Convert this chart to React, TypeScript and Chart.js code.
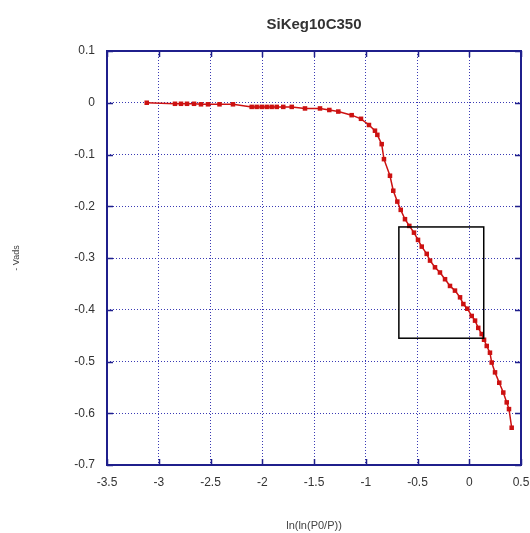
import React, { useEffect, useRef } from "react";
import { Chart, registerables } from "chart.js";

Chart.register(...registerables);

const TITLE = "SiKeg10C350";
const X_TITLE = "ln(ln(P0/P))";
const Y_TITLE = "- Vads";

const X_TICKS = [-3.5, -3, -2.5, -2, -1.5, -1, -0.5, 0, 0.5];
const Y_TICKS = [0.1, 0, -0.1, -0.2, -0.3, -0.4, -0.5, -0.6, -0.7];

const X_VALUES = [
  -3.116, -2.843, -2.785, -2.727, -2.659, -2.592, -2.524, -2.413, -2.283,
  -2.102, -2.054, -2.005, -1.957, -1.909, -1.86, -1.797, -1.715, -1.587,
  -1.442, -1.352, -1.265, -1.136, -1.046, -0.969, -0.911, -0.888, -0.846,
  -0.824, -0.766, -0.734, -0.695, -0.662, -0.621, -0.579, -0.534, -0.495,
  -0.459, -0.411, -0.379, -0.331, -0.283, -0.234, -0.186, -0.138, -0.089,
  -0.057, -0.019, 0.024, 0.056, 0.087, 0.12, 0.143, 0.169, 0.2, 0.217,
  0.249, 0.29, 0.329, 0.362, 0.384, 0.41,
];
const Y_VALUES = [
  0.0, -0.002, -0.002, -0.002, -0.002, -0.003, -0.003, -0.003, -0.003,
  -0.008, -0.008, -0.008, -0.008, -0.008, -0.008, -0.008, -0.008, -0.011,
  -0.011, -0.014, -0.017, -0.024, -0.031, -0.043, -0.054, -0.062, -0.08,
  -0.109, -0.141, -0.17, -0.191, -0.207, -0.225, -0.238, -0.251, -0.265,
  -0.278, -0.292, -0.305, -0.318, -0.328, -0.341, -0.354, -0.363, -0.376,
  -0.389, -0.398, -0.412, -0.421, -0.435, -0.447, -0.458, -0.47, -0.483,
  -0.502, -0.521, -0.541, -0.56, -0.579, -0.592, -0.628,
];

// highlight rectangle (data coordinates)
const BOX_X = [-0.68, 0.14];
const BOX_Y = [-0.24, -0.455];

const FONT = "'Liberation Sans', Arial, sans-serif";
const FRAME = "#1f1f8c";
const GRID = "#3a3ab4";

const framePlugin = {
  id: "frame",
  afterDraw(chart: any) {
    const { ctx, chartArea: a, scales } = chart;
    const xs = scales.x;
    const ys = scales.y;
    ctx.save();
    // highlight box
    ctx.strokeStyle = "#000";
    ctx.lineWidth = 1.5;
    const bx1 = xs.getPixelForValue(BOX_X[0]);
    const bx2 = xs.getPixelForValue(BOX_X[1]);
    const by1 = ys.getPixelForValue(BOX_Y[0]);
    const by2 = ys.getPixelForValue(BOX_Y[1]);
    ctx.strokeRect(bx1, by1, bx2 - bx1, by2 - by1);
    // frame
    ctx.strokeStyle = FRAME;
    ctx.lineWidth = 2;
    ctx.strokeRect(a.left, a.top, a.right - a.left, a.bottom - a.top);
    // inner tick marks
    ctx.lineWidth = 1.5;
    const len = 6;
    X_TICKS.forEach((v) => {
      const p = Math.round(xs.getPixelForValue(v)) + 0.5;
      ctx.beginPath();
      ctx.moveTo(p, a.bottom);
      ctx.lineTo(p, a.bottom - len);
      ctx.moveTo(p, a.top);
      ctx.lineTo(p, a.top + len);
      ctx.stroke();
    });
    Y_TICKS.forEach((v) => {
      const p = Math.round(ys.getPixelForValue(v)) + 0.5;
      ctx.beginPath();
      ctx.moveTo(a.left, p);
      ctx.lineTo(a.left + len, p);
      ctx.moveTo(a.right, p);
      ctx.lineTo(a.right - len, p);
      ctx.stroke();
    });
    ctx.restore();
  },
};

const fmt = (v: number) => String(Math.round(v * 10) / 10);

export default function App() {
  const ref = useRef<HTMLCanvasElement>(null);
  useEffect(() => {
    if (!ref.current) return;
    const chart = new Chart(ref.current, {
      type: "scatter",
      data: {
        datasets: [
          {
            data: X_VALUES.map((x, i) => ({ x, y: Y_VALUES[i] })),
            showLine: true,
            borderColor: "#cc1111",
            backgroundColor: "#cc1111",
            borderWidth: 1.5,
            pointStyle: "rect",
            pointRadius: 3.2,
            pointBorderWidth: 0,
          },
        ],
      },
      options: {
        responsive: false,
        animation: false,
        layout: { padding: { left: 0, right: 0, top: 0, bottom: 0 } },
        plugins: {
          legend: { display: false },
          tooltip: { enabled: false },
          title: {
            display: true,
            text: TITLE,
            fullSize: false,
            color: "#333",
            font: { family: FONT, size: 15, weight: "bold" },
            padding: { top: 16, bottom: 17 },
          },
        },
        scales: {
          x: {
            type: "linear",
            min: -3.5,
            max: 0.5,
            afterBuildTicks: (s: any) => {
              s.ticks = X_TICKS.map((value) => ({ value }));
            },
            afterFit: (s: any) => {
              s.height = 68;
              s.paddingLeft = 0;
              s.paddingRight = 9;
            },
            ticks: {
              callback: (v: any) => fmt(Number(v)),
              font: { family: FONT, size: 12 },
              color: "#333",
              padding: 10,
              maxRotation: 0,
            },
            grid: { color: GRID, lineWidth: 1, drawTicks: false },
            border: { display: false, dash: [1, 2] },
            title: {
              display: true,
              text: X_TITLE,
              color: "#444",
              font: { family: FONT, size: 11 },
              padding: { top: 0, bottom: 0 },
            },
          },
          y: {
            type: "linear",
            min: -0.7,
            max: 0.1,
            afterBuildTicks: (s: any) => {
              s.ticks = Y_TICKS.map((value) => ({ value }));
            },
            afterFit: (s: any) => {
              s.width = 107;
              s.paddingTop = 0;
              s.paddingBottom = 0;
            },
            ticks: {
              callback: (v: any) => fmt(Number(v)),
              font: { family: FONT, size: 12 },
              color: "#333",
              padding: 12,
            },
            grid: { color: GRID, lineWidth: 1, drawTicks: false },
            border: { display: false, dash: [1, 2] },
            title: {
              display: true,
              text: Y_TITLE,
              color: "#444",
              font: { family: FONT, size: 9 },
              padding: { top: 11, bottom: 0 },
            },
          },
        },
      },
      plugins: [framePlugin],
    } as any);
    return () => chart.destroy();
  }, []);
  return (
    <div style={{ position: "absolute", left: 0, top: 0, width: 530, height: 533, background: "#fff" }}>
      <canvas ref={ref} width={530} height={533} style={{ display: "block", width: 530, height: 533 }} />
    </div>
  );
}
